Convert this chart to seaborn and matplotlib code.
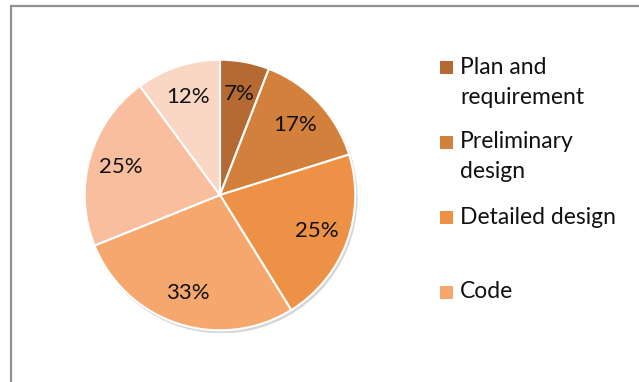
import matplotlib
matplotlib.use("Agg")
import matplotlib.pyplot as plt
import seaborn as sns
from matplotlib.patches import Rectangle, Circle
from matplotlib.lines import Line2D

# ---- data ----
values = [7, 17, 25, 33, 25, 12]
pct_labels = ["7%", "17%", "25%", "33%", "25%", "12%"]
legend_labels = ["Plan and\nrequirement", "Preliminary\ndesign", "Detailed design", "Code"]
colors = ["#B46A32", "#D2803B", "#EC9145", "#F5A76E", "#F8BE9D", "#FAD6C5"]

sns.set_theme(style="white")
plt.rcParams["font.family"] = ["Lato", "DejaVu Sans"]

W, H = 639, 382
fig = plt.figure(figsize=(W / 100, H / 100), dpi=100)
fig.patch.set_facecolor("white")

palette = sns.color_palette(colors)

cx, cy, r = 220, 195, 138
ax = fig.add_axes([(cx - r) / W, (H - cy - r) / H, 2 * r / W, 2 * r / H])
ax.set_facecolor("white")

# soft shadow under the pie
ax.add_patch(Circle((0.012, -0.018), 1.005, facecolor="#d6d6d6", edgecolor="none", zorder=0))

label_iter = iter(pct_labels)
wedges, texts, autotexts = ax.pie(
    values,
    colors=palette,
    startangle=90,
    counterclock=False,
    autopct=lambda p: next(label_iter),
    pctdistance=0.76,
    wedgeprops=dict(edgecolor="white", linewidth=1.5),
    textprops=dict(fontsize=16, color="#111111"),
)
ax.set_xlim(-1.02, 1.02)
ax.set_ylim(-1.02, 1.02)
ax.set_aspect("auto")
ax.axis("off")

# ---- legend (manual, aligned with first line of each entry) ----
legend_y = [67, 142, 217, 292]
for lab, col, y in zip(legend_labels, palette, legend_y):
    fig.patches.append(Rectangle((440 / W, (H - y - 6.5) / H), 13 / W, 13 / H,
                                 transform=fig.transFigure, facecolor=col,
                                 edgecolor="none"))
    lines = lab.split("\n")
    for i, line in enumerate(lines):
        fig.text(460 / W, (H - y - 30 * i) / H, line, fontsize=16.5,
                 va="center", ha="left", color="#111111")

# ---- outer frame (left and top edges visible) ----
fig.lines.append(Line2D([10.5 / W, 10.5 / W], [0, (H - 5.5) / H],
                        transform=fig.transFigure, color="#909090", lw=1.6))
fig.lines.append(Line2D([10.5 / W, 1.0], [(H - 5.5) / H, (H - 5.5) / H],
                        transform=fig.transFigure, color="#909090", lw=1.6))

fig.savefig("out.png", dpi=100, facecolor="white")
